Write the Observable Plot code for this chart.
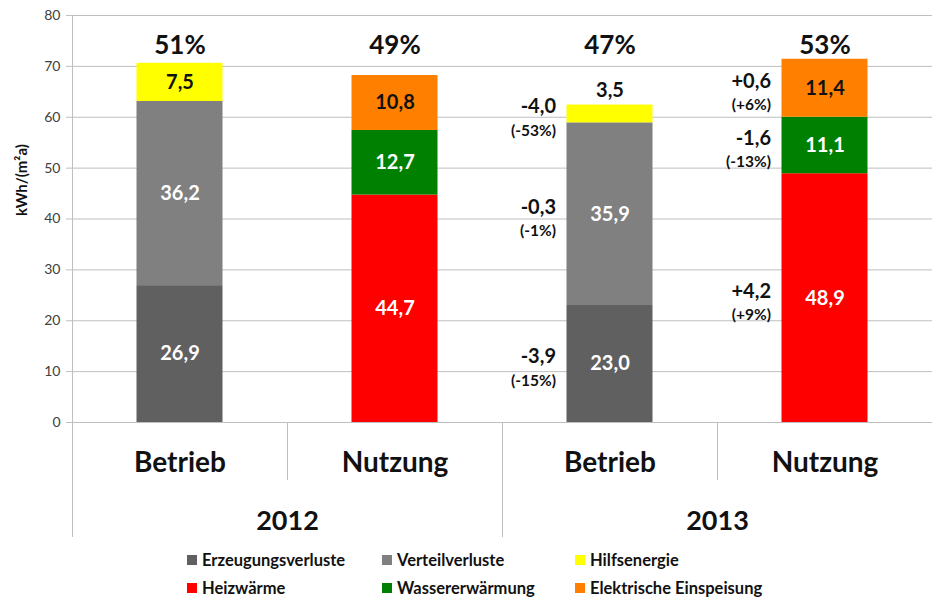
<!DOCTYPE html>
<html>
<head>
<meta charset="utf-8">
<script src="https://cdn.jsdelivr.net/npm/d3@7"></script>
<script src="https://cdn.jsdelivr.net/npm/@observablehq/plot@0.6"></script>
<style>
  html, body { margin: 0; padding: 0; background: #fff; }
  body { width: 945px; height: 610px; position: relative; overflow: hidden; font-family: Lato, "Open Sans", sans-serif; }
  #chart { position: absolute; left: 0; top: 0; }
  #legend { position: absolute; left: 187px; top: 546px; display: grid; grid-template-columns: 195px 193px auto; grid-auto-rows: 28px; font-size: 16.5px; font-weight: bold; color: #111; }
  .item { display: flex; align-items: center; white-space: nowrap; }
  .sw { width: 10px; height: 10px; margin-right: 5px; display: inline-block; }
</style>
</head>
<body>
<div id="chart"></div>
<div id="legend"></div>
<script>
// ---- data ----
const categories = ["Betrieb", "Nutzung", "Betrieb", "Nutzung"];
const years = ["2012", "2013"];
const betriebSeries = ["Erzeugungsverluste", "Verteilverluste", "Hilfsenergie"];
const nutzungSeries = ["Heizwärme", "Wassererwärmung", "Elektrische Einspeisung"];
const seriesColors = ["#606060", "#808080", "#ffff00", "#ff0000", "#008000", "#ff8000"];
const betrieb2012 = [26.9, 36.2, 7.5];
const nutzung2012 = [44.7, 12.7, 10.8];
const betrieb2013 = [23.0, 35.9, 3.5];
const nutzung2013 = [48.9, 11.1, 11.4];
const shares = ["51%", "49%", "47%", "53%"];
const diffBetrieb2013 = ["-3,9", "-0,3", "-4,0"];
const diffBetrieb2013Pct = ["(-15%)", "(-1%)", "(-53%)"];
const diffNutzung2013 = ["+4,2", "-1,6", "+0,6"];
const diffNutzung2013Pct = ["(+9%)", "(-13%)", "(+6%)"];
const yTicks = [0, 10, 20, 30, 40, 50, 60, 70, 80];

// ---- build table ----
const allSeries = [...betriebSeries, ...nutzungSeries];
const bars = [
  {i: 0, series: betriebSeries, values: betrieb2012},
  {i: 1, series: nutzungSeries, values: nutzung2012},
  {i: 2, series: betriebSeries, values: betrieb2013, diffs: diffBetrieb2013, pcts: diffBetrieb2013Pct},
  {i: 3, series: nutzungSeries, values: nutzung2013, diffs: diffNutzung2013, pcts: diffNutzung2013Pct}
];
const rows = [];
for (const b of bars) {
  let acc = 0;
  b.values.forEach((v, k) => {
    const s = b.series[k];
    rows.push({
      idx: b.i, series: s, value: v, y1: acc, y2: acc + v,
      label: v.toFixed(1).replace(".", ","),
      diff: b.diffs ? b.diffs[k] : null,
      pct: b.pcts ? b.pcts[k] : null,
      dark: ["Erzeugungsverluste", "Verteilverluste", "Heizwärme", "Wassererwärmung"].includes(s)
    });
    acc += v;
  });
}
const inside = rows.filter(d => d.value >= 5);
const above = rows.filter(d => d.value < 5);
const diffRows = rows.filter(d => d.diff);
const catRows = categories.map((c, i) => ({c, i}));
const yearRows = years.map((y, i) => ({y, i}));

const font = "Lato, 'Open Sans', sans-serif";

const chart = Plot.plot({
  width: 945,
  height: 545,
  marginTop: 15,
  marginLeft: 72,
  marginRight: 13,
  marginBottom: 123,
  style: {fontFamily: font, background: "#fff"},
  x: {domain: [0, 4], axis: null},
  y: {domain: [0, 80], axis: null},
  color: {domain: allSeries, range: seriesColors},
  marks: [
    Plot.ruleY(yTicks.filter(t => t > 0), {stroke: "#bfbfbf", strokeWidth: 1}),
    Plot.rect(rows, {x1: d => d.idx + 0.3, x2: d => d.idx + 0.7, y1: "y1", y2: "y2", fill: "series"}),
    Plot.ruleY([0], {stroke: "#bfbfbf", strokeWidth: 1}),
    // axis line and group separators below the axis
    Plot.ruleX([0, 2], {y1: -22.6, y2: d => d === 0 ? 80 : 0, stroke: "#bfbfbf", strokeWidth: 1}),
    Plot.ruleX([1, 3], {y1: -11.4, y2: 0, stroke: "#bfbfbf", strokeWidth: 1}),
    Plot.axisY({ticks: yTicks, tickSize: 6, tickPadding: 6, stroke: "#bfbfbf", fill: "#404040", fontSize: 14, label: null, tickFormat: d => String(d)}),
    Plot.text(["kWh/(m²a)"], {frameAnchor: "left", dx: -50, dy: -3, rotate: -90, fontSize: 15, fontWeight: "bold", fill: "#111"}),
    // values inside segments
    Plot.text(inside, {x: d => d.idx + 0.5, y: d => (d.y1 + d.y2) / 2, text: "label", fill: d => d.dark ? "#fff" : "#111", fontSize: 20, fontWeight: "bold"}),
    Plot.text(above, {x: d => d.idx + 0.5, y: "y2", dy: -14, text: "label", fill: "#111", fontSize: 20, fontWeight: "bold"}),
    // differences 2013
    Plot.text(diffRows, {x: d => d.idx + 0.3, y: d => (d.y1 + d.y2) / 2, dx: -11, dy: -7, text: "diff", textAnchor: "end", fill: "#111", fontSize: 20, fontWeight: "bold"}),
    Plot.text(diffRows, {x: d => d.idx + 0.3, y: d => (d.y1 + d.y2) / 2, dx: -11, dy: 17, text: "pct", textAnchor: "end", fill: "#111", fontSize: 15.5, fontWeight: "bold"}),
    // shares on top
    Plot.text(shares, {x: (d, i) => i + 0.5, frameAnchor: "top", dy: 20, text: d => d, fill: "#111", fontSize: 26, fontWeight: "bold"}),
    // category labels
    Plot.text(catRows, {x: d => d.i + 0.5, y: 0, dy: 41, text: "c", fill: "#111", fontSize: 28, fontWeight: "bold"}),
    Plot.text(yearRows, {x: d => d.i * 2 + 1, y: 0, dy: 99, text: "y", fill: "#111", fontSize: 27, fontWeight: "bold"})
  ]
});
document.getElementById("chart").appendChild(chart);

// legend
const legend = document.getElementById("legend");
for (let k = 0; k < allSeries.length; k++) {
  const it = document.createElement("div");
  it.className = "item";
  const sw = document.createElement("span");
  sw.className = "sw";
  sw.style.background = seriesColors[k];
  it.appendChild(sw);
  it.appendChild(document.createTextNode(allSeries[k]));
  legend.appendChild(it);
}
</script>
</body>
</html>
